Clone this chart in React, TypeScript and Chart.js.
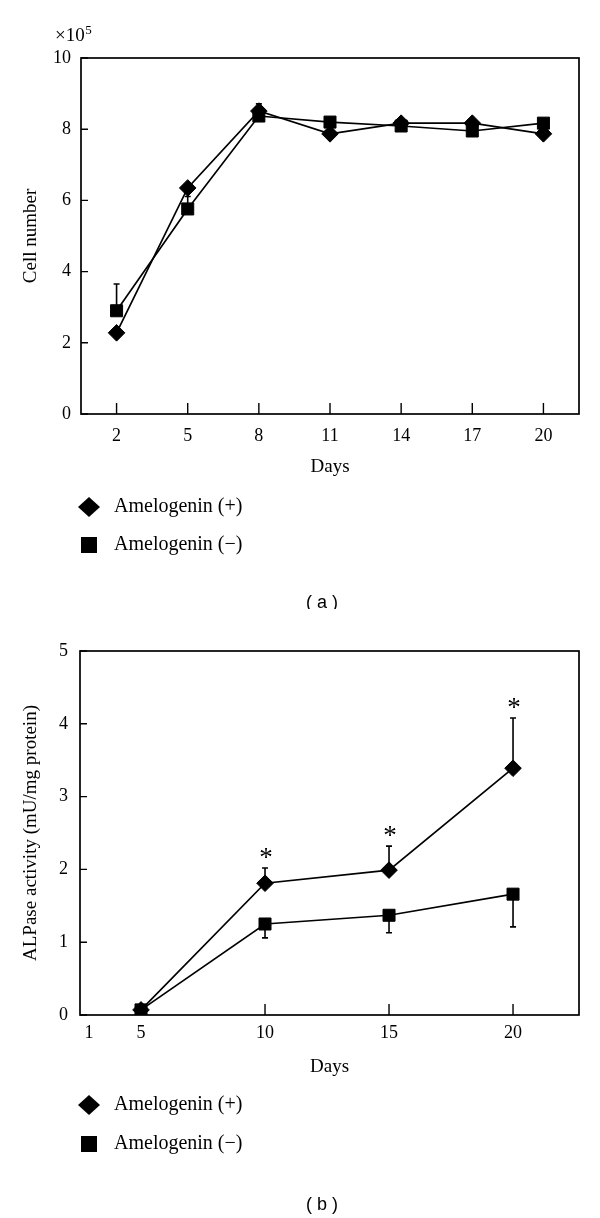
import React, { useEffect, useRef } from "react";
import { Chart, registerables } from "chart.js";
Chart.register(...registerables);

// ---------- Data: panel (a) ----------
const aDays = [2, 5, 8, 11, 14, 17, 20];
const aTickDays = [2, 5, 8, 11, 14, 17, 20];
const aPlus = [2.28, 6.35, 8.51, 7.87, 8.17, 8.17, 7.87];
const aMinus = [2.9, 5.76, 8.37, 8.2, 8.09, 7.95, 8.17];
const aPlusErr = [0, 0, 0.2, 0, 0, 0, 0];
const aMinusErr = [0.75, 0.35, 0, 0, 0, 0, 0];

// ---------- Data: panel (b) ----------
const bDays = [5, 10, 15, 20];
const bPlus = [0.07, 1.81, 1.99, 3.39];
const bMinus = [0.07, 1.25, 1.37, 1.66];
const bPlusErr = [0, 0.21, 0.33, 0.69];
const bMinusErr = [0, 0.19, 0.24, 0.45];
const bSignificant = [false, true, true, true];
const bTickValues = [2.9, 5, 10, 15, 20];
const bTickLabels = ["1", "5", "10", "15", "20"];
const bTickMarks = [5, 10, 15, 20];

const legendLabels = ["Amelogenin (+)", "Amelogenin (\u2212)"];

const SERIF = "'Liberation Serif', 'Times New Roman', serif";
const SANS = "'Liberation Sans', Arial, sans-serif";

type ErrSpec = { err: number[]; dir: number };

function makeOverlay(cfg: {
  errs: ErrSpec[];
  stars?: boolean[];
  xTicks: number[];
  legendY: number[];
  panel: string;
  panelY: number;
  multiplier?: boolean;
}) {
  return {
    id: "overlay",
    beforeDatasetsDraw(chart: any) {
      const ctx = chart.ctx;
      const xs = chart.scales.x;
      const ys = chart.scales.y;
      ctx.save();
      ctx.strokeStyle = "#000";
      ctx.lineWidth = 1.6;
      cfg.errs.forEach((spec, di) => {
        const data = chart.data.datasets[di].data as any[];
        data.forEach((p: any, i: number) => {
          const e = spec.err[i];
          if (!e) return;
          const x = xs.getPixelForValue(p.x);
          const y0 = ys.getPixelForValue(p.y);
          const y1 = ys.getPixelForValue(p.y + spec.dir * e);
          ctx.beginPath();
          ctx.moveTo(x, y0);
          ctx.lineTo(x, y1);
          ctx.moveTo(x - 3, y1);
          ctx.lineTo(x + 3, y1);
          ctx.stroke();
        });
      });
      ctx.restore();
    },
    afterDraw(chart: any) {
      const ctx = chart.ctx;
      const a = chart.chartArea;
      const xs = chart.scales.x;
      const ys = chart.scales.y;
      ctx.save();
      ctx.strokeStyle = "#000";
      ctx.lineWidth = 1.7;
      ctx.strokeRect(a.left, a.top, a.right - a.left, a.bottom - a.top);
      ctx.lineWidth = 1.4;
      ctx.beginPath();
      ys.ticks.forEach((t: any) => {
        const y = ys.getPixelForValue(t.value);
        ctx.moveTo(a.left, y);
        ctx.lineTo(a.left + 7, y);
      });
      cfg.xTicks.forEach((v) => {
        const x = xs.getPixelForValue(v);
        ctx.moveTo(x, a.bottom);
        ctx.lineTo(x, a.bottom - 11);
      });
      ctx.stroke();

      // significance stars
      if (cfg.stars) {
        const data = chart.data.datasets[0].data as any[];
        ctx.fillStyle = "#000";
        ctx.font = `27px ${SERIF}`;
        ctx.textAlign = "center";
        ctx.textBaseline = "alphabetic";
        cfg.stars.forEach((s, i) => {
          if (!s) return;
          const p = data[i];
          const x = xs.getPixelForValue(p.x);
          const yt = ys.getPixelForValue(p.y + cfg.errs[0].err[i]);
          ctx.fillText("*", x + 1, yt - 15 + 13);
        });
      }

      // legend
      ctx.fillStyle = "#000";
      const mx = 89;
      const ly = cfg.legendY[0];
      ctx.beginPath();
      ctx.moveTo(mx, ly - 10);
      ctx.lineTo(mx + 11, ly);
      ctx.lineTo(mx, ly + 10);
      ctx.lineTo(mx - 11, ly);
      ctx.closePath();
      ctx.fill();
      const ly2 = cfg.legendY[1];
      ctx.fillRect(mx - 8, ly2 - 8, 16, 16);
      ctx.font = `20px ${SERIF}`;
      ctx.textAlign = "left";
      ctx.textBaseline = "middle";
      ctx.fillText(chart.data.datasets[0].label, 114, ly);
      ctx.fillText(chart.data.datasets[1].label, 114, ly2);

      // panel label
      ctx.font = `18px ${SANS}`;
      ctx.textAlign = "center";
      ctx.fillText(cfg.panel, 322, cfg.panelY);

      // multiplier
      if (cfg.multiplier) {
        ctx.textAlign = "left";
        ctx.textBaseline = "alphabetic";
        ctx.font = `19px ${SERIF}`;
        const base = "\u00d710";
        ctx.fillText(base, 55, 41);
        const w = ctx.measureText(base).width;
        ctx.font = `13px ${SERIF}`;
        ctx.fillText("5", 55 + w + 0.5, 34);
      }
      ctx.restore();
    },
  };
}

function baseDatasets(xs: number[], plus: number[], minus: number[]) {
  return [
    {
      label: legendLabels[0],
      data: xs.map((x, i) => ({ x, y: plus[i] })),
      borderColor: "#000",
      backgroundColor: "#000",
      borderWidth: 1.7,
      pointStyle: "rectRot",
      pointRadius: 8.3,
      pointBorderWidth: 1,
      tension: 0,
      fill: false,
    },
    {
      label: legendLabels[1],
      data: xs.map((x, i) => ({ x, y: minus[i] })),
      borderColor: "#000",
      backgroundColor: "#000",
      borderWidth: 1.7,
      pointStyle: "rect",
      pointRadius: 8.5,
      pointBorderWidth: 1,
      tension: 0,
      fill: false,
    },
  ];
}

function axisCommon() {
  return {
    grid: { display: false, drawTicks: false },
    border: { display: false },
  };
}

function PanelA() {
  const ref = useRef<HTMLCanvasElement>(null);
  useEffect(() => {
    const chart = new Chart(ref.current as HTMLCanvasElement, {
      type: "line",
      data: { datasets: baseDatasets(aDays, aPlus, aMinus) as any },
      options: {
        animation: false,
        responsive: false,
        layout: { padding: { top: 58, right: 21, left: 0, bottom: 0 } },
        plugins: { legend: { display: false }, tooltip: { enabled: false } },
        scales: {
          x: {
            type: "linear",
            min: 0.5,
            max: 21.5,
            ...axisCommon(),
            afterBuildTicks: (s: any) => {
              s.ticks = aTickDays.map((v) => ({ value: v }));
            },
            afterFit: (s: any) => {
              s.height = 195;
            },
            ticks: {
              color: "#000",
              font: { family: SERIF, size: 18 },
              padding: 11,
              callback: (v: any) => String(v),
            },
            title: {
              display: true,
              text: "Days",
              color: "#000",
              font: { family: SERIF, size: 19 },
              padding: { top: 0, bottom: 131 },
            },
          },
          y: {
            min: 0,
            max: 10,
            ...axisCommon(),
            afterFit: (s: any) => {
              s.width = 81;
            },
            ticks: {
              stepSize: 2,
              color: "#000",
              font: { family: SERIF, size: 18 },
              padding: 10,
            },
            title: {
              display: true,
              text: "Cell number",
              color: "#000",
              font: { family: SERIF, size: 19 },
              padding: { top: 20, bottom: 0 },
            },
          },
        },
      } as any,
      plugins: [
        makeOverlay({
          errs: [
            { err: aPlusErr, dir: 1 },
            { err: aMinusErr, dir: 1 },
          ],
          xTicks: aTickDays,
          legendY: [507, 545],
          panel: "( a )",
          panelY: 603,
          multiplier: true,
        }) as any,
      ],
    });
    return () => chart.destroy();
  }, []);
  return <canvas ref={ref} width={600} height={609} style={{ display: "block" }} />;
}

function PanelB() {
  const ref = useRef<HTMLCanvasElement>(null);
  useEffect(() => {
    const chart = new Chart(ref.current as HTMLCanvasElement, {
      type: "line",
      data: { datasets: baseDatasets(bDays, bPlus, bMinus) as any },
      options: {
        animation: false,
        responsive: false,
        layout: { padding: { top: 42, right: 21, left: 0, bottom: 0 } },
        plugins: { legend: { display: false }, tooltip: { enabled: false } },
        scales: {
          x: {
            type: "linear",
            min: 2.54,
            max: 22.66,
            ...axisCommon(),
            afterBuildTicks: (s: any) => {
              s.ticks = bTickValues.map((v) => ({ value: v }));
            },
            afterFit: (s: any) => {
              s.height = 203;
            },
            ticks: {
              color: "#000",
              font: { family: SERIF, size: 18 },
              padding: 7,
              callback: (_v: any, i: number) => bTickLabels[i],
            },
            title: {
              display: true,
              text: "Days",
              color: "#000",
              font: { family: SERIF, size: 19 },
              padding: { top: 0, bottom: 140 },
            },
          },
          y: {
            min: 0,
            max: 5,
            ...axisCommon(),
            afterFit: (s: any) => {
              s.width = 80;
            },
            ticks: {
              stepSize: 1,
              color: "#000",
              font: { family: SERIF, size: 18 },
              padding: 12,
            },
            title: {
              display: true,
              text: "ALPase activity (mU/mg protein)",
              color: "#000",
              font: { family: SERIF, size: 19 },
              padding: { top: 20, bottom: 0 },
            },
          },
        },
      } as any,
      plugins: [
        makeOverlay({
          errs: [
            { err: bPlusErr, dir: 1 },
            { err: bMinusErr, dir: -1 },
          ],
          stars: bSignificant,
          xTicks: bTickMarks,
          legendY: [496, 535],
          panel: "( b )",
          panelY: 596,
        }) as any,
      ],
    });
    return () => chart.destroy();
  }, []);
  return <canvas ref={ref} width={600} height={609} style={{ display: "block" }} />;
}

export default function App() {
  return (
    <div
      style={{
        position: "absolute",
        left: 0,
        top: 0,
        width: 600,
        height: 1218,
        background: "#fff",
      }}
    >
      <PanelA />
      <PanelB />
    </div>
  );
}
